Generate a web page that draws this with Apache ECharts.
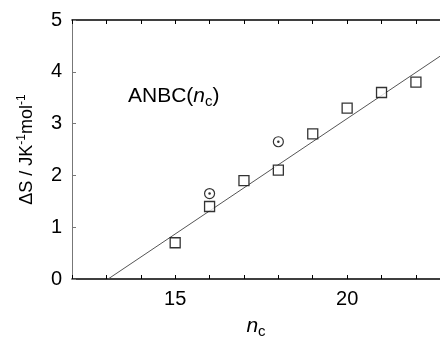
<!DOCTYPE html>
<html>
<head>
<meta charset="utf-8">
<script src="https://cdn.jsdelivr.net/npm/echarts@6/dist/echarts.min.js"></script>
<style>html,body{margin:0;padding:0;background:#fff}#c{width:440px;height:341px}</style>
</head>
<body>
<div id="c"></div>
<script>
// Data
const squareX = [15, 16, 17, 18, 19, 20, 21, 22];
const squareY = [0.7, 1.4, 1.9, 2.1, 2.8, 3.3, 3.6, 3.8];
const circleX = [16, 18];
const circleY = [1.65, 2.65];
const fitX = [13.05, 22.7];
const fitY = [0, 4.3];
const xLabels = [15, 20];
const yTicks = [0, 1, 2, 3, 4, 5];

const pairs = (xs, ys) => xs.map((x, i) => [x, ys[i]]);
const FONT = '"Liberation Sans", Arial, sans-serif';

const chart = echarts.init(document.getElementById('c'), null, {renderer: 'canvas'});
chart.setOption({
  animation: false,
  backgroundColor: '#fff',
  title: {
    text: 'ANBC({i|n}{sub|c})',
    left: 123, top: 79,
    textStyle: {
      fontFamily: FONT, fontSize: 21, fontWeight: 'normal', color: '#000',
      rich: {
        i: {fontFamily: FONT, fontSize: 21, fontStyle: 'italic', color: '#000'},
        sub: {fontFamily: FONT, fontSize: 15, color: '#000', padding: [10, 0, 0, 0]}
      }
    }
  },
  grid: {left: 72, top: 20, right: 0, bottom: 62, containLabel: false, outerBoundsMode: 'none'},
  xAxis: [{
    type: 'value', min: 12, max: 22.7, interval: 1, position: 'bottom',
    name: '{i|n}{sub|c}', nameLocation: 'middle', nameGap: 35,
    nameTextStyle: {
      rich: {
        i: {fontFamily: FONT, fontSize: 21, fontStyle: 'italic', color: '#000'},
        sub: {fontFamily: FONT, fontSize: 15, color: '#000', padding: [10, 0, 0, 0]}
      }
    },
    axisLine: {show: true, onZero: false, lineStyle: {color: '#000', width: 1.5}},
    axisTick: {show: true, inside: true, length: 4, lineStyle: {color: '#000', width: 1}},
    axisLabel: {
      fontFamily: FONT, fontSize: 20, color: '#000', margin: 10, showMaxLabel: false,
      formatter: v => (xLabels.indexOf(v) >= 0 ? String(v) : '')
    },
    splitLine: {show: false}
  }, {
    type: 'value', min: 12, max: 22.7, interval: 1, position: 'top',
    axisLine: {show: true, onZero: false, lineStyle: {color: '#000', width: 1.5}},
    axisTick: {show: true, inside: true, length: 4, lineStyle: {color: '#000', width: 1}},
    axisLabel: {show: false},
    splitLine: {show: false}
  }],
  yAxis: {
    type: 'value', min: 0, max: 5, interval: 1,
    name: 'ΔS / JK{sup|-1}mol{sup|-1}', nameLocation: 'middle', nameGap: 34, nameRotate: 90,
    nameTextStyle: {
      fontFamily: FONT, fontSize: 18, color: '#000',
      rich: {sup: {fontFamily: FONT, fontSize: 12, color: '#000', padding: [0, 0, 10, 0]}}
    },
    axisLine: {show: true, onZero: false, lineStyle: {color: '#777', width: 1}},
    axisTick: {show: true, inside: true, length: 4, lineStyle: {color: '#777', width: 1}},
    axisLabel: {
      fontFamily: FONT, fontSize: 20, color: '#000', margin: 10,
      formatter: v => (yTicks.indexOf(v) >= 0 ? String(v) : '')
    },
    splitLine: {show: false}
  },
  series: [
    {
      type: 'line', data: pairs(fitX, fitY), symbol: 'none',
      lineStyle: {color: '#555', width: 1}, z: 1
    },
    {
      type: 'scatter', data: pairs(squareX, squareY), symbol: 'rect', symbolSize: 10,
      itemStyle: {color: '#fff', borderColor: '#000', borderWidth: 1.3}, z: 3
    },
    {
      type: 'scatter', data: pairs(circleX, circleY), symbol: 'circle', symbolSize: 10,
      itemStyle: {color: '#fff', borderColor: '#000', borderWidth: 1.2}, z: 3
    },
    {
      type: 'scatter', data: pairs(circleX, circleY), symbol: 'circle', symbolSize: 2.5,
      itemStyle: {color: '#000'}, z: 4
    }
  ]
});
</script>
</body>
</html>
